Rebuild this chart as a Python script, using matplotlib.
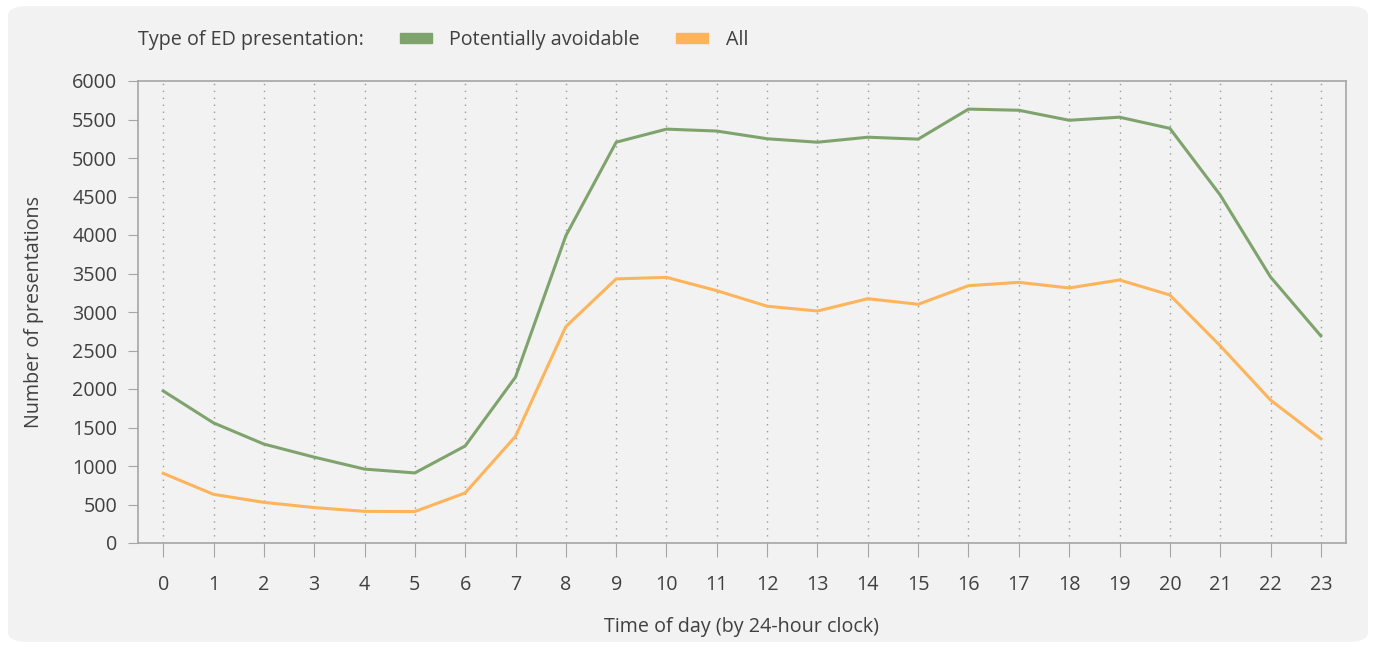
import matplotlib.pyplot as plt
from matplotlib.patches import FancyBboxPatch, Patch

hours = list(range(24))
avoidable = [1975, 1560, 1285, 1115, 960, 910, 1260, 2155, 3990, 5205,
             5375, 5350, 5250, 5205, 5270, 5245, 5635, 5620, 5490, 5530,
             5385, 4520, 3455, 2690]
all_pres = [905, 632, 528, 460, 411, 408, 650, 1385, 2810, 3430,
            3450, 3277, 3075, 3013, 3173, 3100, 3342, 3385, 3312, 3416,
            3221, 2562, 1857, 1355]
y_ticks = [0, 500, 1000, 1500, 2000, 2500, 3000, 3500, 4000, 4500, 5000, 5500, 6000]

green = "#7ea36c"
orange = "#fdb45a"
text_col = "#404040"
spine_col = "#a6a6a6"
fs = 14.2

plt.rcParams["font.family"] = ["Open Sans", "DejaVu Sans"]

fig = plt.figure(figsize=(13.75, 6.5), dpi=100)
fig.patch.set_facecolor("white")

# rounded grey panel behind everything
panel = FancyBboxPatch((8 / 1375, 8 / 650), 1360 / 1375, 636 / 650,
                       boxstyle="round,pad=0,rounding_size=0.015",
                       transform=fig.transFigure, facecolor="#f2f2f2",
                       edgecolor="none", zorder=-10)
fig.patches.append(panel)

ax = fig.add_axes([138 / 1375, 1 - 543 / 650, (1346 - 138) / 1375, (543 - 81) / 650])
ax.set_facecolor("#f2f2f2")

ax.plot(hours, avoidable, color=green, lw=2.2, label="Potentially avoidable")
ax.plot(hours, all_pres, color=orange, lw=2.2, label="All")

ax.set_xlim(-0.5, 23.5)
ax.set_ylim(0, 6000)
ax.set_xticks(hours)
ax.set_yticks(y_ticks)
ax.tick_params(axis="both", colors=spine_col, labelcolor=text_col, labelsize=fs)
ax.tick_params(axis="x", length=10, pad=13)
ax.tick_params(axis="y", length=7, pad=8)
ax.grid(axis="x", linestyle=(0, (1, 4)), color="#999999", lw=1)
for s in ax.spines.values():
    s.set_color(spine_col)
    s.set_linewidth(1.2)

ax.set_xlabel("Time of day (by 24-hour clock)", fontsize=fs, color=text_col, labelpad=16)
ax.set_ylabel("Number of presentations", fontsize=fs, color=text_col)
ax.yaxis.set_label_coords(-0.078, 0.5)

fig.text(138 / 1375, 1 - 40 / 650, "Type of ED presentation:", fontsize=fs,
         color=text_col, va="center", ha="left")
handles = [Patch(color=green, label="Potentially avoidable"), Patch(color=orange, label="All")]
leg = fig.legend(handles=handles, loc="center left", bbox_to_anchor=(400 / 1375, 1 - 40 / 650),
                 ncol=2, frameon=False, fontsize=fs, handlelength=1.6, handleheight=0.45,
                 handletextpad=0.9, columnspacing=1.85, borderaxespad=0, borderpad=0)
for t in leg.get_texts():
    t.set_color(text_col)

fig.savefig("out.png", dpi=100)
